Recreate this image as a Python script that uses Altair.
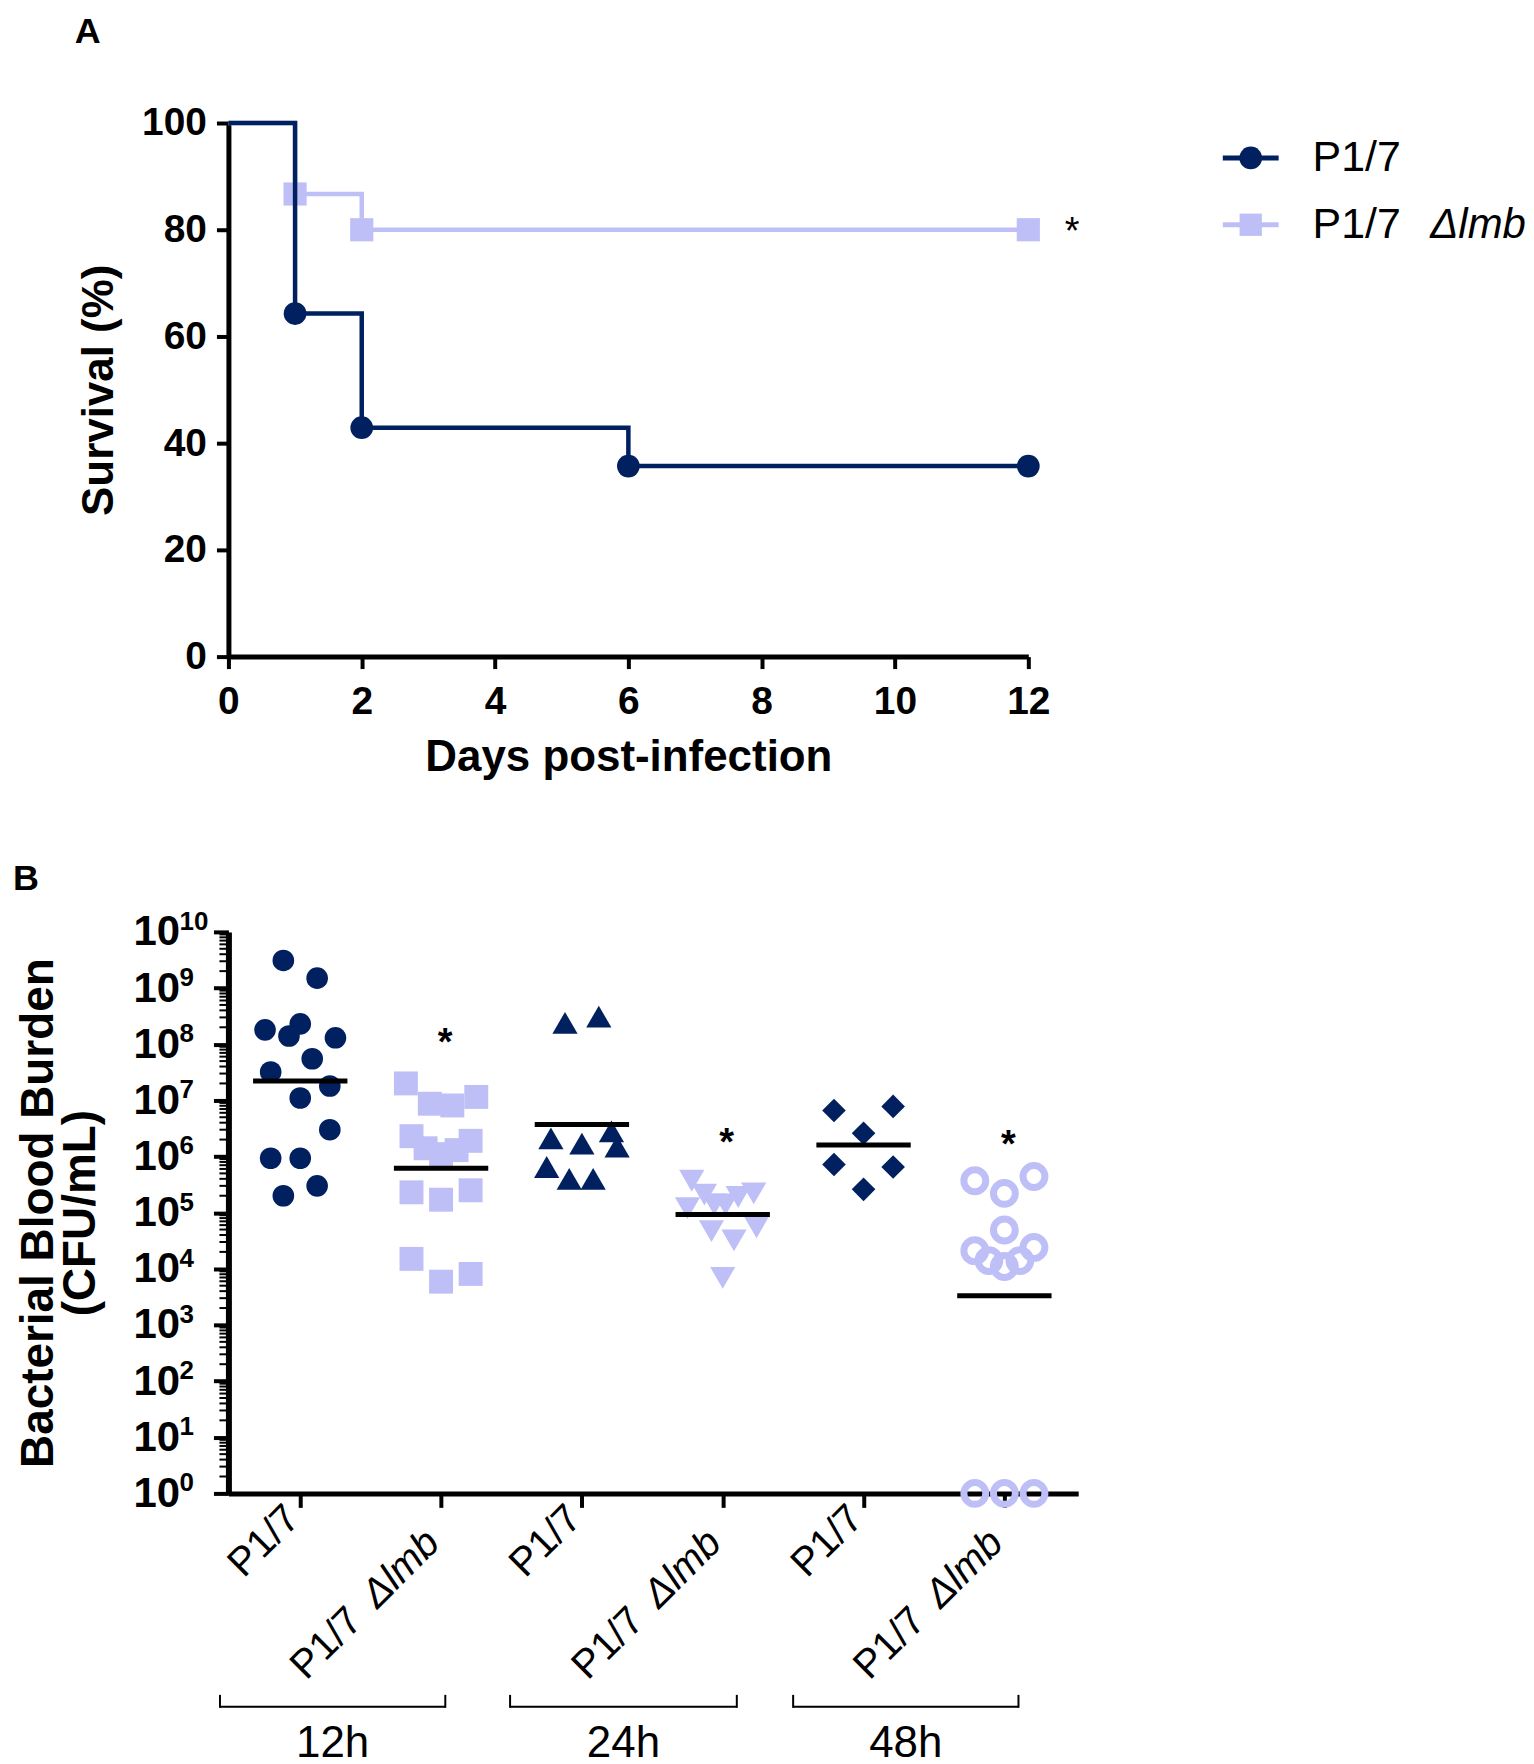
import altair as alt
import pandas as pd

DARK = "#00205f"
LIGHT = "#bfbff8"
FONT = "Liberation Sans"

# ---------------- Panel A: survival ----------------
wt_days = [0, 1, 2, 6, 12]
wt_surv = [100, 64.3, 42.9, 35.7, 35.7]
wt_marker_days = [1, 2, 6, 12]
wt_marker_surv = [64.3, 42.9, 35.7, 35.7]
mut_days = [0, 1, 2, 12]
mut_surv = [100, 86.7, 80, 80]
mut_marker_days = [1, 2, 12]
mut_marker_surv = [86.7, 80, 80]
surv_x_ticks = [0, 2, 4, 6, 8, 10, 12]
surv_y_ticks = [0, 20, 40, 60, 80, 100]
surv_sig = [{"day": 12, "surv": 80, "t": "*"}]

# ---------------- Panel B: blood burden (CFU/mL) ----------------
group_index = [1, 2, 3, 4, 5, 6]
group_tick_labels_a = ["P1/7", "P1/7", "P1/7", "P1/7", "P1/7", "P1/7"]
group_tick_labels_b = ["", "Δlmb", "", "Δlmb", "", "Δlmb"]

cfu_12h_wt = [3.1e9, 1.5e9, 2.3e8, 1.8e8, 1.4e8, 1.3e8, 5.5e7, 3.2e7, 1.8e7,
              1.1e7, 3.0e6, 9.3e5, 9.3e5, 3.0e5, 2.0e5]
jit_12h_wt = [-0.12, 0.12, 0.0, -0.25, -0.08, 0.25, 0.085, -0.21, 0.21,
              0.0, 0.21, -0.21, 0.0, 0.12, -0.12]
cfu_12h_mut = [2.0e7, 8.7e6, 8.1e6, 1.15e7, 2.3e6, 1.4e6, 1.1e6, 1.3e6, 1.9e6,
               2.3e5, 1.7e5, 2.5e5, 1.5e4, 5.9e3, 8.1e3]
jit_12h_mut = [-0.25, -0.08, 0.08, 0.25, -0.21, -0.11, 0.0, 0.11, 0.21,
               -0.21, 0.0, 0.21, -0.21, 0.0, 0.21]
cfu_24h_wt = [2.4e8, 3.1e8, 2.1e6, 1.7e6, 2.8e6, 1.5e6, 6.5e5, 4.0e5, 4.0e5]
jit_24h_wt = [-0.12, 0.12, -0.22, 0.0, 0.21, 0.25, -0.25, -0.09, 0.08]
cfu_24h_mut = [3.7e5, 2.1e5, 1.4e5, 1.4e5, 1.9e5, 2.2e5, 1.2e5, 4.7e4, 3.2e4,
               5.5e4, 6.9e3]
jit_24h_mut = [-0.22, -0.13, -0.06, 0.02, 0.11, 0.22, -0.25, -0.08, 0.08,
               0.24, 0.0]
cfu_48h_wt = [6.6e6, 7.8e6, 2.6e6, 7.2e5, 6.5e5, 2.6e5]
jit_48h_wt = [-0.21, 0.21, 0.0, -0.21, 0.21, 0.0]
cfu_48h_mut = [3.7e5, 2.2e5, 4.4e5, 4.9e4, 2.1e4, 1.4e4, 1.1e4, 1.4e4, 2.4e4,
               1, 1, 1]
jit_48h_mut = [-0.21, 0.0, 0.21, 0.0, -0.21, -0.11, 0.0, 0.11, 0.21,
               -0.21, 0.0, 0.21]

group_means = [2.2e7, 6.2e5, 3.7e6, 9.3e4, 1.6e6, 3.3e3]
sig_groups = [2, 4, 6]
sig_heights = [1.6e8, 2.6e6, 2.4e6]

time_labels = ["12h", "24h", "48h"]
bracket_start = [0.43, 2.49, 4.50]
bracket_end = [2.03, 4.10, 6.10]

decades = [1, 10, 100, 1e3, 1e4, 1e5, 1e6, 1e7, 1e8, 1e9, 1e10]
decade_exp = ["0", "1", "2", "3", "4", "5", "6", "7", "8", "9", "10"]
minor_ticks = [m * 10 ** k for k in range(10) for m in range(2, 10)]

# ---------------- geometry ----------------
WA, HA = 802, 535
WB, HB = 852, 563

# ================= Panel A =================
xA = alt.X("day:Q", scale=alt.Scale(domain=[0, 12], nice=False, zero=False),
           axis=alt.Axis(values=surv_x_ticks, title="Days post-infection",
                         titleX=WA / 2, titleY=101, titleBaseline="middle",
                         labelPadding=14, labelFlush=False))
yA = alt.Y("surv:Q", scale=alt.Scale(domain=[0, 100], nice=False),
           axis=alt.Axis(values=surv_y_ticks, title="Survival (%)",
                         titleX=-129, titleY=HA / 2, titleBaseline="middle",
                         titleAngle=-90, titleAlign="center", labelPadding=10,
                         labelFlush=False))

wt_df = pd.DataFrame({"day": wt_days, "surv": wt_surv})
wt_m_df = pd.DataFrame({"day": wt_marker_days, "surv": wt_marker_surv})
mut_df = pd.DataFrame({"day": mut_days, "surv": mut_surv})
mut_m_df = pd.DataFrame({"day": mut_marker_days, "surv": mut_marker_surv})

mut_line = alt.Chart(mut_df).mark_line(interpolate="step-after", color=LIGHT,
                                       strokeWidth=4.5).encode(x=xA, y=yA)
mut_pts = alt.Chart(mut_m_df).mark_point(shape="square", filled=True, color=LIGHT,
                                         size=540, opacity=1).encode(x=xA, y=yA)
wt_line = alt.Chart(wt_df).mark_line(interpolate="step-after", color=DARK,
                                     strokeWidth=4.5).encode(x=xA, y=yA)
wt_pts = alt.Chart(wt_m_df).mark_point(shape="circle", filled=True, color=DARK,
                                       size=520, opacity=1).encode(x=xA, y=yA)
sigA = alt.Chart(pd.DataFrame(surv_sig)).mark_text(
    font=FONT, fontSize=38, fontWeight="normal", dx=44, dy=3, color="black"
).encode(x=xA, y=yA, text="t:N")

one = pd.DataFrame({"k": [0]})
labelA = alt.Chart(one).mark_text(text="A", font=FONT, fontSize=36, fontWeight="bold",
                                  align="left", baseline="alphabetic").encode(
    x=alt.value(-154), y=alt.value(-80))

# legend (manual, to allow italic Δlmb)
leg_rows = [35, 102]
leg1_line = alt.Chart(one).mark_rule(color=DARK, strokeWidth=5).encode(
    x=alt.value(997), x2=alt.value(1053), y=alt.value(leg_rows[0]))
leg1_pt = alt.Chart(one).mark_point(shape="circle", filled=True, color=DARK, size=520,
                                    opacity=1).encode(x=alt.value(1025), y=alt.value(leg_rows[0]))
leg1_txt = alt.Chart(one).mark_text(text="P1/7", font=FONT, fontSize=43, align="left",
                                    baseline="middle").encode(x=alt.value(1087), y=alt.value(leg_rows[0]))
leg2_line = alt.Chart(one).mark_rule(color=LIGHT, strokeWidth=5).encode(
    x=alt.value(997), x2=alt.value(1053), y=alt.value(leg_rows[1]))
leg2_pt = alt.Chart(one).mark_point(shape="square", filled=True, color=LIGHT, size=500,
                                    opacity=1).encode(x=alt.value(1025), y=alt.value(leg_rows[1]))
leg2_txt = alt.Chart(one).mark_text(text="P1/7", font=FONT, fontSize=43, align="left",
                                    baseline="middle").encode(x=alt.value(1087), y=alt.value(leg_rows[1]))
leg2_txt_it = alt.Chart(one).mark_text(text="Δlmb", font=FONT, fontSize=42, align="left",
                                       fontStyle="italic", baseline="middle").encode(
    x=alt.value(1205), y=alt.value(leg_rows[1]))

panelA = alt.layer(
    mut_line, mut_pts, wt_line, wt_pts, sigA, labelA,
    leg1_line, leg1_pt, leg1_txt, leg2_line, leg2_pt, leg2_txt, leg2_txt_it
).properties(width=WA, height=HA)

# ================= Panel B =================
xscaleB = alt.Scale(domain=[0.49, 6.524], nice=False, zero=False)
yscaleB = alt.Scale(type="log", domain=[1, 1e10], nice=False)

xB_axis = alt.Axis(values=group_index, labels=False, title=None, tickSize=14)
yB_axis = alt.Axis(values=decades, labelExpr="'10'", title=["Bacterial Blood Burden", "(CFU/mL)"],
                   titleX=-190, titleY=HB / 2, titleBaseline="middle", titleAngle=-90,
                   titleAlign="center", titleLineHeight=42, tickSize=15, labelPadding=34,
                   titleFontSize=46, labelFontSize=42, labelFlush=False, domainWidth=6)

groups = [
    (1, cfu_12h_wt, jit_12h_wt, "circle", DARK, True, 470),
    (2, cfu_12h_mut, jit_12h_mut, "square", LIGHT, True, 576),
    (3, cfu_24h_wt, jit_24h_wt, "triangle-up", DARK, True, 640),
    (4, cfu_24h_mut, jit_24h_mut, "triangle-down", LIGHT, True, 640),
    (5, cfu_48h_wt, jit_48h_wt, "diamond", DARK, True, 560),
    (6, cfu_48h_mut, jit_48h_mut, "circle", LIGHT, False, 480),
]

layersB = []
for g, vals, jit, shape, col, filled, size in groups:
    df = pd.DataFrame({"g": [g] * len(vals), "cfu": vals, "jit": jit})
    if filled:
        mk = alt.Chart(df).mark_point(shape=shape, filled=True, color=col, size=size,
                                      opacity=1, strokeWidth=0)
    else:
        mk = alt.Chart(df).mark_point(shape=shape, filled=False, color=col, size=size,
                                      opacity=1, strokeWidth=7)
    layersB.append(
        mk.transform_calculate(xp="datum.g + datum.jit").encode(
            x=alt.X("xp:Q", scale=xscaleB, axis=xB_axis),
            y=alt.Y("cfu:Q", scale=yscaleB, axis=yB_axis))
    )

mean_df = pd.DataFrame({"g": group_index, "m": group_means})
mean_lines = alt.Chart(mean_df).transform_calculate(
    a="datum.g - 0.335", b="datum.g + 0.335"
).mark_rule(color="black", strokeWidth=5).encode(
    x=alt.X("a:Q", scale=xscaleB), x2="b:Q", y=alt.Y("m:Q", scale=yscaleB))

sig_df = pd.DataFrame({"g": sig_groups, "h": sig_heights, "t": ["*"] * 3})
sigB = alt.Chart(sig_df).mark_text(font=FONT, fontSize=38, fontWeight="bold",
                                   baseline="middle", dx=4, dy=11).encode(
    x=alt.X("g:Q", scale=xscaleB), y=alt.Y("h:Q", scale=yscaleB), text="t:N")

minor_df = pd.DataFrame({"v": minor_ticks})
minor = alt.Chart(minor_df).mark_rule(color="black", strokeWidth=2).encode(
    x=alt.value(-9), x2=alt.value(0), y=alt.Y("v:Q", scale=yscaleB))

exp_df = pd.DataFrame({"v": decades, "e": decade_exp})
exps = alt.Chart(exp_df).mark_text(font=FONT, fontSize=26, fontWeight="bold", align="left",
                                   baseline="middle", dy=-10).encode(
    x=alt.value(-49), y=alt.Y("v:Q", scale=yscaleB), text="e:N")

lab_df = pd.DataFrame({"g": group_index, "a": group_tick_labels_a, "b": group_tick_labels_b})
lab_df["has_b"] = [len(s) > 0 for s in group_tick_labels_b]
lab_plain = alt.Chart(lab_df).transform_filter("!datum.has_b").mark_text(
    font=FONT, fontSize=40, angle=315, align="right", baseline="middle", dy=-10).encode(
    x=alt.X("g:Q", scale=xscaleB), y=alt.value(HB + 26), text="a:N")
lab_pre = alt.Chart(lab_df).transform_filter("datum.has_b").mark_text(
    font=FONT, fontSize=40, angle=315, align="right", baseline="middle",
    dx=-128, dy=7).encode(
    x=alt.X("g:Q", scale=xscaleB), y=alt.value(HB + 26), text="a:N")
lab_it = alt.Chart(lab_df).transform_filter("datum.has_b").mark_text(
    font=FONT, fontSize=40, angle=315, align="right", baseline="middle",
    fontStyle="italic", dx=-18, dy=7).encode(
    x=alt.X("g:Q", scale=xscaleB), y=alt.value(HB + 26), text="b:N")

br_df = pd.DataFrame({"s": bracket_start, "e": bracket_end, "t": time_labels})
br_h = alt.Chart(br_df).mark_rule(color="black", strokeWidth=2).encode(
    x=alt.X("s:Q", scale=xscaleB), x2="e:Q", y=alt.value(HB + 214))
br_l = alt.Chart(br_df).mark_rule(color="black", strokeWidth=2).encode(
    x=alt.X("s:Q", scale=xscaleB), y=alt.value(HB + 202), y2=alt.value(HB + 215))
br_r = alt.Chart(br_df).mark_rule(color="black", strokeWidth=2).encode(
    x=alt.X("e:Q", scale=xscaleB), y=alt.value(HB + 202), y2=alt.value(HB + 215))
br_t = alt.Chart(br_df).transform_calculate(mid="(datum.s + datum.e) / 2").mark_text(
    font=FONT, fontSize=44, baseline="middle").encode(
    x=alt.X("mid:Q", scale=xscaleB), y=alt.value(HB + 251), text="t:N")

labelB = alt.Chart(one).mark_text(text="B", font=FONT, fontSize=36, fontWeight="bold",
                                  align="left", baseline="top").encode(
    x=alt.value(-216), y=alt.value(-70))

panelB = alt.layer(
    *layersB, mean_lines, sigB, minor, exps, lab_plain, lab_pre, lab_it,
    br_h, br_l, br_r, br_t, labelB
).properties(width=WB, height=HB)

chart = alt.VConcatChart(
    vconcat=[panelA, panelB], spacing=276, bounds="flush",
    padding={"left": 5, "top": 4, "right": 0, "bottom": 0}
).configure_view(stroke=None).configure_axis(
    domainColor="black", domainWidth=5, tickColor="black", tickWidth=4, tickSize=12,
    grid=False, labelFont=FONT, labelFontSize=39, labelFontWeight="bold", labelColor="black",
    titleFont=FONT, titleFontSize=44, titleFontWeight="bold", titleColor="black"
)

chart.save("out.html", embed_options={"renderer": "svg", "actions": False})
